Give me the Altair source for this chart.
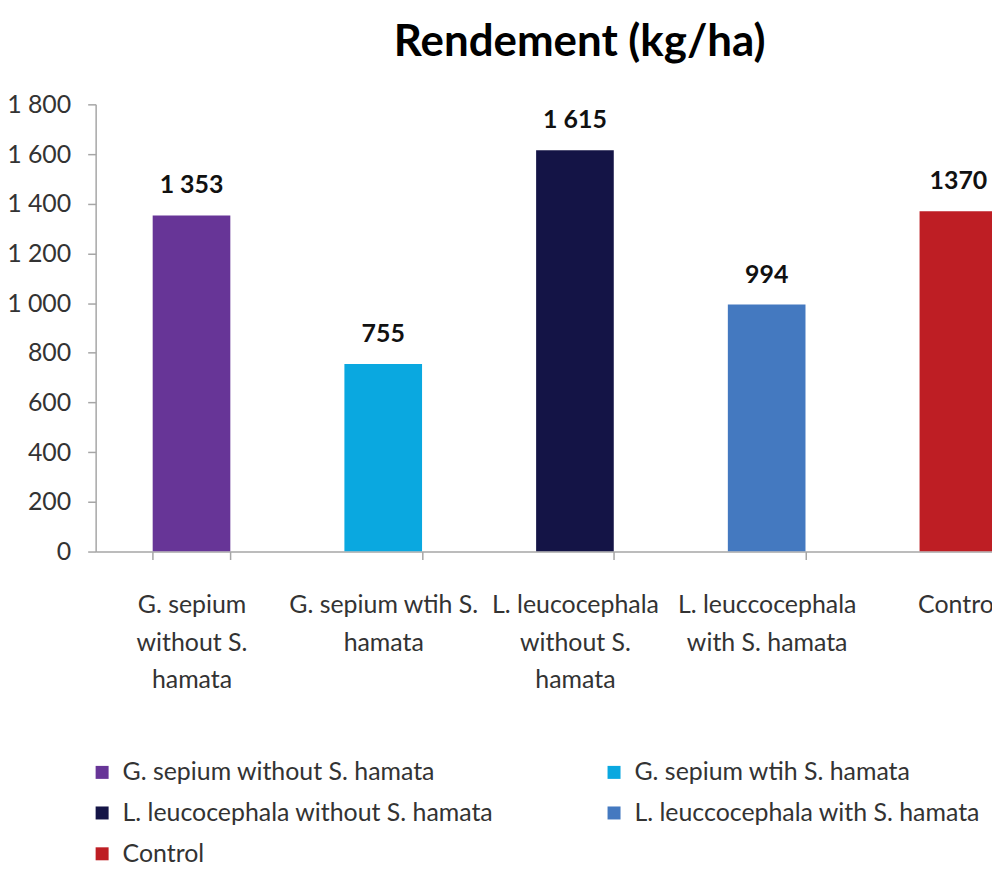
import json
import altair as alt
import pandas as pd

categories = [
    "G. sepium without S. hamata",
    "G. sepium wtih S. hamata",
    "L. leucocephala without S. hamata",
    "L. leuccocephala with S. hamata",
    "Control",
]
values = [1353, 755, 1615, 994, 1370]
value_labels = ["1 353", "755", "1 615", "994", "1370"]
axis_label_lines = [
    ["G. sepium", "without S.", "hamata"],
    ["G. sepium wtih S.", "hamata"],
    ["L. leucocephala", "without S.", "hamata"],
    ["L. leuccocephala", "with S. hamata"],
    ["Control"],
]
colors = ["#673597", "#0aa8e0", "#141446", "#4479c0", "#be1e24"]
y_ticks = [0, 200, 400, 600, 800, 1000, 1200, 1400, 1600, 1800]

# legend is filled column by column: reorder so rows read like the reference
legend_order = [0, 2, 4, 1, 3]

FONT = "Lato"

df = pd.DataFrame({"cat": categories, "value": values, "lab": value_labels})

expr = "''"
for c, lines in reversed(list(zip(categories, axis_label_lines))):
    expr = f"datum.value == {json.dumps(c)} ? {json.dumps(lines)} : ({expr})"

xscale = alt.Scale(domain=categories, range=[0, 962.5], paddingInner=0.595, paddingOuter=0.2975)

x = alt.X(
    "cat:N",
    sort=categories,
    scale=xscale,
    title=None,
    axis=alt.Axis(
        labelExpr=expr,
        labelAngle=0,
        labelFont=FONT,
        labelFontSize=25,
        labelColor="#333333",
        labelLineHeight=38,
        labelBaseline="top",
        labelPadding=33,
        labelLimit=0,
        labelOverlap=False,
        tickBand="extent",
        tickSize=8,
        tickColor="#a6a6a6",
        domainColor="#a6a6a6",
        domainWidth=1.5,
        tickWidth=1.5,
        grid=False,
    ),
)

y = alt.Y(
    "value:Q",
    scale=alt.Scale(domain=[0, 1800], nice=False),
    title=None,
    axis=alt.Axis(
        values=y_ticks,
        labelExpr="replace(format(datum.value, ','), ',', ' ')",
        labelFont=FONT,
        labelFontSize=25,
        labelColor="#333333",
        labelPadding=17,
        tickSize=8,
        tickColor="#a6a6a6",
        domainColor="#a6a6a6",
        domainWidth=1.5,
        tickWidth=1.5,
        grid=False,
    ),
)

color = alt.Color(
    "cat:N",
    scale=alt.Scale(
        domain=[categories[i] for i in legend_order],
        range=[colors[i] for i in legend_order],
    ),
    legend=alt.Legend(
        title=None,
        orient="none",
        legendX=-6,
        legendY=658,
        columns=2,
        columnPadding=108,
        rowPadding=15,
        symbolType="square",
        symbolSize=170,
        symbolStrokeWidth=0,
        labelFont=FONT,
        labelFontSize=25,
        labelColor="#333333",
        labelOffset=8,
        labelLimit=0,
    ),
)

bars = alt.Chart(df).mark_bar(clip=True).encode(x=x, y=y, color=color)

texts = alt.Chart(df).mark_text(
    font=FONT, fontSize=25, fontWeight="bold", color="#111111", baseline="alphabetic", dy=-22
).encode(x=alt.X("cat:N", sort=categories, scale=xscale), y=alt.Y("value:Q"), text="lab:N")

chart = (
    alt.layer(bars, texts)
    .properties(
        width=900,
        height=449,
        autosize=alt.AutoSizeParams(type="none"),
        padding={"left": 88, "top": 95, "right": 0, "bottom": 315},
        title=alt.TitleParams(
            "Rendement (kg/ha)",
            font=FONT,
            fontSize=44,
            fontWeight="bold",
            color="#000000",
            anchor="middle",
            dx=36,
            dy=47,
            baseline="alphabetic",
            offset=40,
        ),
    )
    .configure_view(strokeWidth=0)
)

chart.save("out.html", embed_options={"renderer": "svg", "actions": False})
